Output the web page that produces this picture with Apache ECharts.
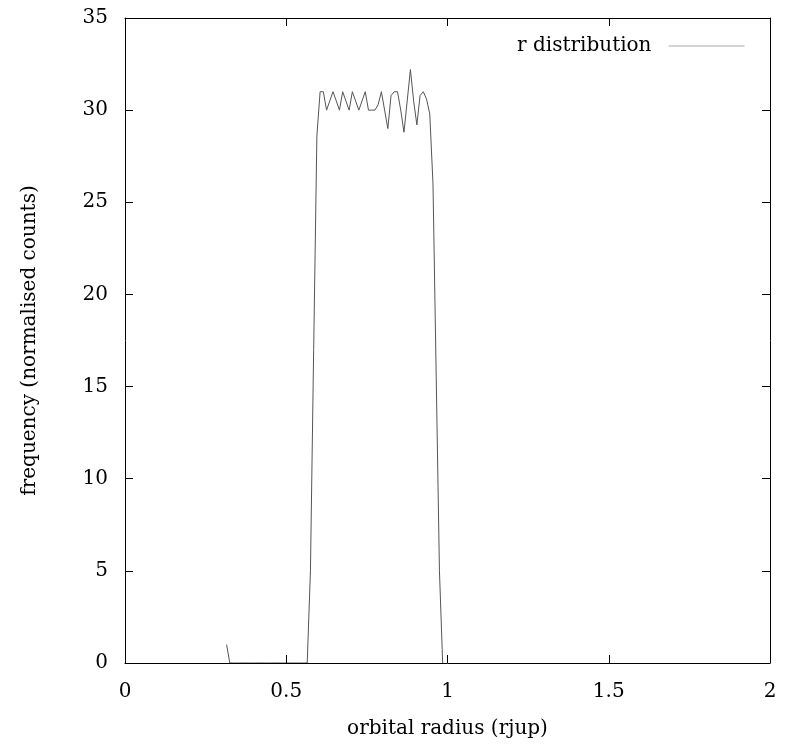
<!DOCTYPE html>
<html>
<head>
<meta charset="utf-8">
<script src="https://cdn.jsdelivr.net/npm/echarts@6/dist/echarts.min.js"></script>
<style>
html,body{margin:0;padding:0;background:#fff;}
#chart{width:786px;height:748px;}
</style>
</head>
<body>
<div id="chart"></div>
<script>
// bin centres (orbital radius, rjup)
const radius = [
  0.315, 0.325, 0.335, 0.345, 0.355, 0.365, 0.375, 0.385, 0.395, 0.405,
  0.415, 0.425, 0.435, 0.445, 0.455, 0.465, 0.475, 0.485, 0.495, 0.505,
  0.515, 0.525, 0.535, 0.545, 0.555, 0.565, 0.575, 0.585, 0.595, 0.605,
  0.615, 0.625, 0.635, 0.645, 0.655, 0.665, 0.675, 0.685, 0.695, 0.705,
  0.715, 0.725, 0.735, 0.745, 0.755, 0.765, 0.775, 0.785, 0.795, 0.805,
  0.815, 0.825, 0.835, 0.845, 0.855, 0.865, 0.875, 0.885, 0.895, 0.905,
  0.915, 0.925, 0.935, 0.945, 0.955, 0.965, 0.975, 0.985
];
// normalised counts
const frequency = [
  1, 0, 0, 0, 0, 0, 0, 0, 0, 0,
  0, 0, 0, 0, 0, 0, 0, 0, 0, 0,
  0, 0, 0, 0, 0, 0, 5, 17, 28.6, 31,
  31, 30, 30.5, 31, 30.5, 30, 31, 30.5, 30, 31,
  30.5, 30, 30.5, 31, 30, 30, 30, 30.3, 31, 30,
  29, 30.8, 31, 31, 30, 28.8, 30.5, 32.2, 30.5, 29.2,
  30.8, 31, 30.6, 29.8, 26, 15.5, 5, 0
];
const xTicks = [0, 0.5, 1, 1.5, 2];
const yTicks = [0, 5, 10, 15, 20, 25, 30, 35];
const seriesName = 'r distribution';
const xTitle = 'orbital radius (rjup)';
const yTitle = 'frequency (normalised counts)';

const FONT = 'DejaVu Serif';
const FS = 20;
const chart = echarts.init(document.getElementById('chart'), null, {renderer: 'canvas'});
const axisCommon = {
  type: 'value',
  z: 5,
  axisLine: {show: true, onZero: false, lineStyle: {color: '#000', width: 1}},
  axisTick: {show: true, inside: true, length: 8, lineStyle: {color: '#000', width: 1}},
  splitLine: {show: false}
};
chart.setOption({
  animation: false,
  backgroundColor: '#fff',
  grid: {left: 125, right: 16, top: 18, bottom: 85, containLabel: false},
  legend: {
    show: true,
    right: 36,
    top: 31,
    align: 'right',
    orient: 'horizontal',
    itemWidth: 76,
    itemHeight: 20,
    itemStyle: {opacity: 0},
    textStyle: {fontFamily: FONT, fontSize: FS, color: '#000', padding: [0, 12, 0, 0]},
    lineStyle: {color: '#aaa', width: 1},
    data: [seriesName]
  },
  xAxis: [
    Object.assign({}, axisCommon, {
      min: xTicks[0], max: xTicks[xTicks.length - 1], interval: xTicks[1] - xTicks[0],
      position: 'bottom',
      name: xTitle, nameLocation: 'middle', nameGap: 56,
      nameTextStyle: {fontFamily: FONT, fontSize: FS, color: '#000'},
      axisLabel: {fontFamily: FONT, fontSize: FS, color: '#000', margin: 19}
    }),
    Object.assign({}, axisCommon, {
      min: xTicks[0], max: xTicks[xTicks.length - 1], interval: xTicks[1] - xTicks[0],
      position: 'top',
      axisLabel: {show: false}
    })
  ],
  yAxis: [
    Object.assign({}, axisCommon, {
      min: yTicks[0], max: yTicks[yTicks.length - 1], interval: yTicks[1] - yTicks[0],
      position: 'left',
      name: yTitle, nameLocation: 'middle', nameGap: 85,
      nameTextStyle: {fontFamily: FONT, fontSize: FS, color: '#000'},
      axisLabel: {fontFamily: FONT, fontSize: FS, color: '#000', margin: 17}
    }),
    Object.assign({}, axisCommon, {
      min: yTicks[0], max: yTicks[yTicks.length - 1], interval: yTicks[1] - yTicks[0],
      position: 'right',
      axisLabel: {show: false}
    })
  ],
  series: [{
    name: seriesName,
    type: 'line',
    xAxisIndex: 0,
    yAxisIndex: 0,
    data: radius.map((r, i) => [r, frequency[i]]),
    showSymbol: false,
    symbol: 'none',
    lineStyle: {color: '#555', width: 1},
    itemStyle: {color: '#aaa'},
    z: 1
  }]
});
</script>
</body>
</html>
